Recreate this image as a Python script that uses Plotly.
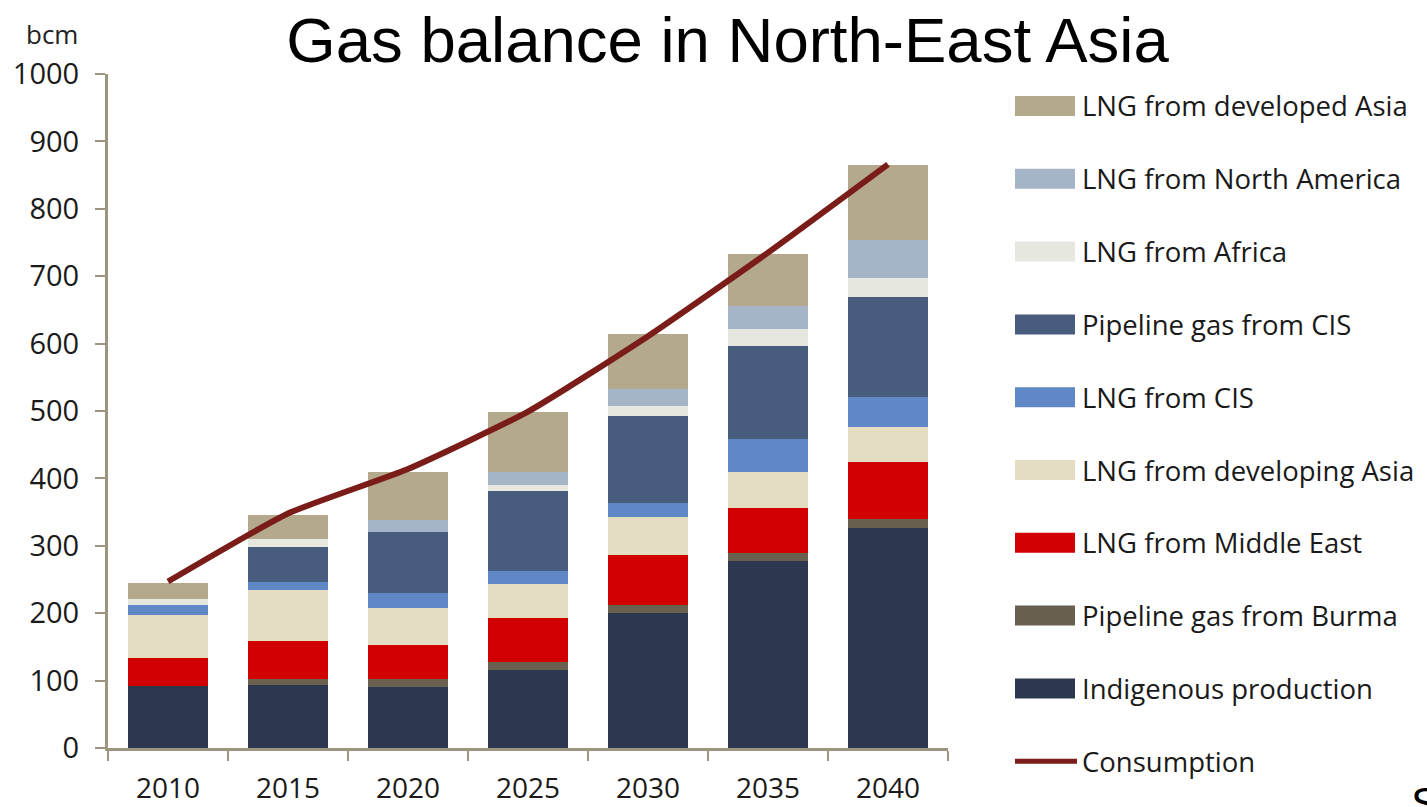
import plotly.graph_objects as go

years = ["2010", "2015", "2020", "2025", "2030", "2035", "2040"]

indigenous = [92, 93, 90, 116, 200, 278, 327]
burma = [0, 10, 12, 11, 12, 12, 13]
middle_east = [42, 56, 51, 66, 74, 66, 85]
developing_asia = [63, 75, 54, 51, 56, 54, 51]
lng_cis = [15, 13, 23, 19, 22, 48, 45]
pipeline_cis = [0, 51, 90, 119, 129, 139, 148]
africa = [9, 12, 0, 8, 14, 24, 29]
north_america = [0, 0, 19, 20, 25, 35, 55]
developed_asia = [24, 36, 71, 88, 82, 77, 112]
consumption = [247, 348, 414, 499, 611, 735, 866]

series_names = [
    "Indigenous production",
    "Pipeline gas from Burma",
    "LNG from Middle East",
    "LNG from developing Asia",
    "LNG from CIS",
    "Pipeline gas from CIS",
    "LNG from Africa",
    "LNG from North America",
    "LNG from developed Asia",
]
series_values = [indigenous, burma, middle_east, developing_asia, lng_cis,
                 pipeline_cis, africa, north_america, developed_asia]
series_colors = ["#2d3850", "#6a604f", "#d20000", "#e4dcc3", "#6088c6",
                 "#485c7e", "#e6e7df", "#a6b4c8", "#b4a88d"]
line_name = "Consumption"
line_color = "#7a1d19"

fig = go.Figure()
for name, vals, col in zip(series_names, series_values, series_colors):
    fig.add_trace(go.Bar(x=years, y=vals, name=name, marker_color=col,
                         marker_line_width=0, showlegend=False))
fig.add_trace(go.Scatter(x=years, y=consumption, name=line_name, mode="lines",
                         line=dict(color=line_color, width=6, shape="spline", smoothing=0.5),
                         showlegend=False))

# plot area pixel geometry
L, R, T, B = 108, 948, 74, 748
W, H = R - L, B - T
def px(xp):
    return (xp - L) / W
def py(yp):
    return (B - yp) / H

axis_col = "#9d957f"
font_fam = "Open Sans, Noto Sans, sans-serif"

# manual legend (top to bottom)
legend_names = series_names[::-1] + [line_name]
legend_colors = series_colors[::-1] + [line_color]
shapes = []
annotations = []
y0, dy = 106, 72.8
for i, (nm, col) in enumerate(zip(legend_names, legend_colors)):
    yc = y0 + i * dy
    if nm == line_name:
        shapes.append(dict(type="line", xref="paper", yref="paper",
                           x0=px(1015), x1=px(1077), y0=py(yc), y1=py(yc),
                           line=dict(color=col, width=5)))
    else:
        shapes.append(dict(type="rect", xref="paper", yref="paper",
                           x0=px(1015), x1=px(1075), y0=py(yc - 10), y1=py(yc + 10),
                           fillcolor=col, line=dict(width=0)))
    annotations.append(dict(text=nm, xref="paper", yref="paper", x=px(1080), y=py(yc),
                            xanchor="left", yanchor="middle", showarrow=False,
                            font=dict(family=font_fam, size=27.5, color="#1a1a1a")))

annotations.append(dict(text="bcm", xref="paper", yref="paper", x=px(80), y=py(34),
                        xanchor="right", yanchor="middle", showarrow=False,
                        font=dict(family=font_fam, size=26, color="#222222")))
annotations.append(dict(text="S", xref="paper", yref="paper", x=px(1409), y=py(777),
                        xanchor="left", yanchor="top", showarrow=False,
                        font=dict(family="Liberation Sans, Arial, sans-serif", size=44, color="#000000")))

fig.update_layout(
    width=1427, height=807,
    margin=dict(l=L, r=1427 - R, t=T, b=807 - B),
    paper_bgcolor="white", plot_bgcolor="white",
    barmode="stack", bargap=0.34,
    title=dict(text="Gas balance in North-East Asia", x=727.5 / 1427, xanchor="center",
               y=1 - 40 / 807, yanchor="middle",
               font=dict(family="Liberation Sans, Arial, sans-serif", size=63.5, color="#000000")),
    shapes=shapes, annotations=annotations,
    xaxis=dict(type="category", showgrid=False, showline=True, linecolor=axis_col, linewidth=3,
               ticks="outside", tickson="boundaries", ticklen=10, tickcolor=axis_col, tickwidth=2,
               tickfont=dict(family=font_fam, size=28, color="#1a1a1a"), ticklabelstandoff=13,
               automargin=False),
    yaxis=dict(range=[0, 1000], dtick=100, showgrid=False, showline=True, linecolor=axis_col,
               linewidth=3, ticks="outside", ticklen=10, tickcolor=axis_col, tickwidth=2,
               tickfont=dict(family=font_fam, size=29, color="#1a1a1a"), ticklabelstandoff=10,
               zeroline=False, automargin=False),
)

fig.write_html("out.html")
